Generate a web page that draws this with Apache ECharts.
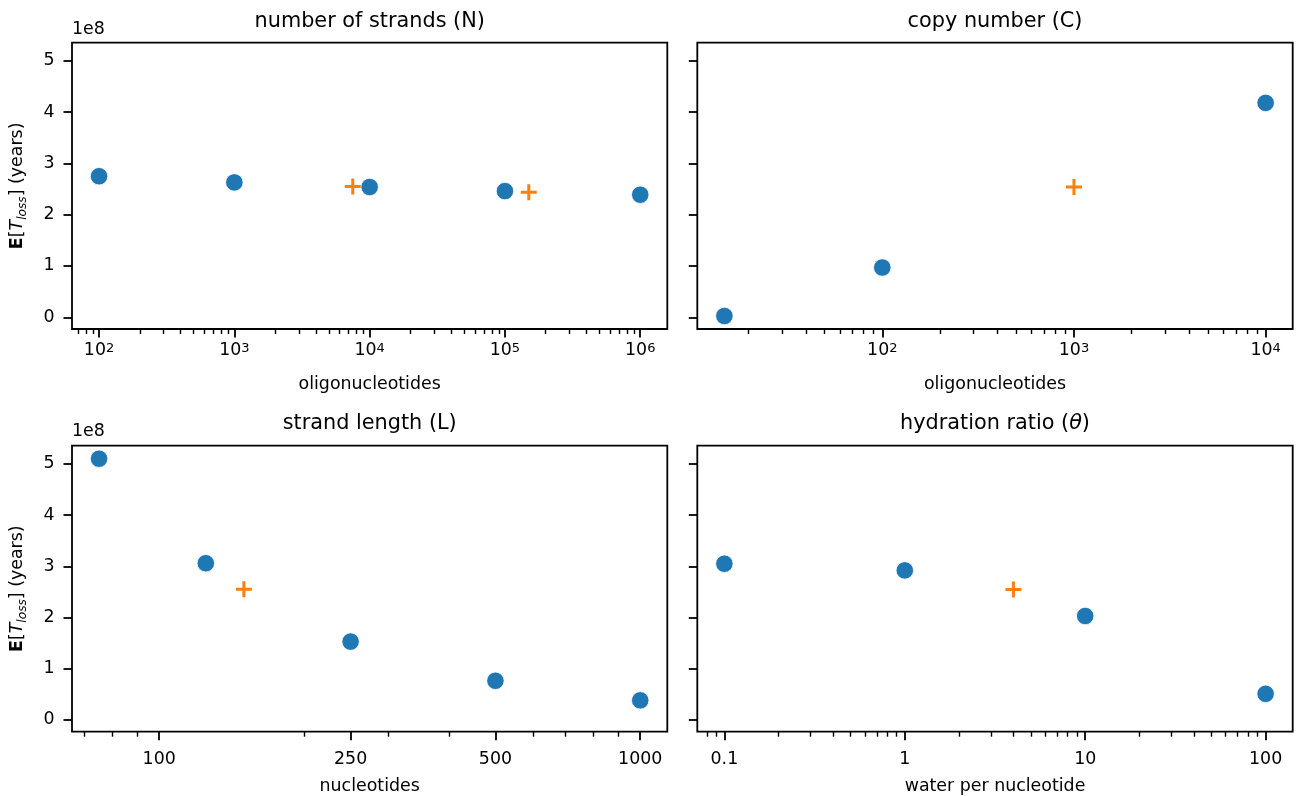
<!DOCTYPE html>
<html>
<head>
<meta charset="utf-8">
<script src="https://cdn.jsdelivr.net/npm/echarts@6/dist/echarts.min.js"></script>
<style>
html, body { margin: 0; padding: 0; background: #fff; }
#chart { width: 1296px; height: 796px; }
</style>
</head>
<body>
<div id="chart"></div>
<script>
// values are in units of 1e8 years
// number of strands (N)
const strandsN = [100, 1000, 10000, 100000, 1000000]
const strandsT = [2.75, 2.63, 2.54, 2.46, 2.39]
const strandsRefN = [7500, 150000]
const strandsRefT = [2.55, 2.44]
// copy number (C)
const copyC = [15, 100, 10000]
const copyT = [0.025, 0.97, 4.18]
const copyRefC = [1000]
const copyRefT = [2.54]
// strand length (L)
const lengthL = [75, 125, 250, 500, 1000]
const lengthT = [5.10, 3.06, 1.53, 0.765, 0.383]
const lengthRefL = [150]
const lengthRefT = [2.55]
// hydration ratio (theta)
const hydrTheta = [0.1, 1, 10, 100]
const hydrT = [3.05, 2.92, 2.03, 0.51]
const hydrRefTheta = [4]
const hydrRefT = [2.545]

// tick labels
const yTicks = [0, 1, 2, 3, 4, 5]
const strandsTicks = [100, 1000, 10000, 100000, 1000000]
const copyTicks = [100, 1000, 10000]
const lengthTicks = [100, 250, 500, 1000]
const hydrTicks = [0.1, 1, 10, 100]

const FONT = 'DejaVu Sans'
const FS = 17.4
const BLUE = '#1f77b4'
const ORANGE = '#ff7f0e'
const PLUS = 'path://M0,6.5H6.5V0H9.5V6.5H16V9.5H9.5V16H6.5V9.5H0Z'

// matplotlib style 5% margins (log space for x)
function logLim (arrs) {
  const all = [].concat(...arrs).map(Math.log10)
  const lo = Math.min(...all), hi = Math.max(...all)
  const m = (hi - lo) * 0.05
  return [Math.pow(10, lo - m), Math.pow(10, hi + m)]
}
const yAll = [].concat(strandsT, strandsRefT, copyT, copyRefT, lengthT, lengthRefT, hydrT, hydrRefT)
const yLo = Math.min(...yAll), yHi = Math.max(...yAll)
const yLim = [yLo - (yHi - yLo) * 0.05, yHi + (yHi - yLo) * 0.05]

// log minor ticks 2..9 x 10^k inside the limits
function minorTicks (lim, major) {
  const out = []
  for (let k = Math.floor(Math.log10(lim[0])); k <= Math.ceil(Math.log10(lim[1])); k++) {
    for (let m = 2; m <= 9; m++) {
      const v = +(m * Math.pow(10, k)).toPrecision(6)
      if (v >= lim[0] && v <= lim[1] && major.indexOf(v) < 0) out.push(v)
    }
  }
  return out
}

const grids = [
  { left: 72, top: 42.7, width: 595.3, height: 286.3 },
  { left: 697.3, top: 42.7, width: 595.4, height: 286.3 },
  { left: 72, top: 445.7, width: 595.3, height: 286 },
  { left: 697.3, top: 445.7, width: 595.4, height: 286 }
]

const tickLine = { color: '#000', width: 1.8 }
const pow10 = v => '10{s|' + Math.round(Math.log10(v)) + '}'
const plain = v => String(v)

function xAxes (grid, lim, major, fmt, margin, gap, name) {
  return [{
    type: 'log',
    gridIndex: grid,
    position: 'bottom',
    min: lim[0],
    max: lim[1],
    name: name,
    nameLocation: 'middle',
    nameGap: gap,
    nameTextStyle: { fontFamily: FONT, fontSize: FS, color: '#000' },
    axisLine: { show: false, onZero: false },
    splitLine: { show: false },
    axisTick: { show: true, customValues: major, length: 8.5, lineStyle: tickLine },
    axisLabel: {
      show: true,
      customValues: major,
      formatter: fmt,
      margin: margin,
      color: '#000',
      fontFamily: FONT,
      fontSize: FS,
      rich: { s: { fontFamily: FONT, fontSize: 13, color: '#000', verticalAlign: 'top' } }
    }
  }, {
    type: 'log',
    gridIndex: grid,
    position: 'bottom',
    min: lim[0],
    max: lim[1],
    axisLine: { show: false, onZero: false },
    splitLine: { show: false },
    axisTick: { show: true, customValues: minorTicks(lim, major), length: 5, lineStyle: { color: '#000', width: 1.4 } },
    axisLabel: { show: false }
  }]
}

const yName = '{b|E}{n|[}{i|T}{s|loss}{n|] (years)}'
function yAxis (grid, showLabel) {
  return {
    type: 'value',
    gridIndex: grid,
    min: yLim[0],
    max: yLim[1],
    name: showLabel ? yName : '',
    nameLocation: 'middle',
    nameRotate: 90,
    nameGap: 43,
    nameTextStyle: {
      rich: {
        b: { fontFamily: FONT, fontSize: FS, fontWeight: 'bold', color: '#000', lineHeight: 24 },
        n: { fontFamily: FONT, fontSize: FS, color: '#000', lineHeight: 24 },
        i: { fontFamily: FONT, fontSize: FS, fontStyle: 'italic', color: '#000', lineHeight: 24 },
        s: { fontFamily: FONT, fontSize: 12.2, fontStyle: 'italic', color: '#000', verticalAlign: 'bottom', lineHeight: 24 }
      }
    },
    axisLine: { show: false, onZero: false },
    splitLine: { show: false },
    axisTick: { show: true, customValues: yTicks, length: 8.5, lineStyle: tickLine },
    axisLabel: {
      show: showLabel,
      customValues: yTicks,
      margin: 17.5,
      color: '#000',
      fontFamily: FONT,
      fontSize: FS
    }
  }
}

function dots (grid, xs, ys) {
  return {
    type: 'scatter',
    xAxisIndex: grid * 2,
    yAxisIndex: grid,
    data: xs.map((x, i) => [x, ys[i]]),
    symbol: 'circle',
    symbolSize: 17.5,
    itemStyle: { color: BLUE, borderColor: '#fff', borderWidth: 0.8, opacity: 1 },
    z: 3
  }
}
function refs (grid, xs, ys) {
  return {
    type: 'scatter',
    xAxisIndex: grid * 2,
    yAxisIndex: grid,
    data: xs.map((x, i) => [x, ys[i]]),
    symbol: PLUS,
    symbolSize: 16,
    itemStyle: { color: ORANGE, opacity: 1 },
    z: 4
  }
}

const strandsLim = logLim([strandsN, strandsRefN])
const copyLim = logLim([copyC, copyRefC])
const lengthLim = logLim([lengthL, lengthRefL])
const hydrLim = logLim([hydrTheta, hydrRefTheta])

function titleText (x, y, text, rich) {
  return {
    type: 'text',
    x: x,
    y: y,
    style: {
      text: text,
      fontFamily: FONT,
      fontSize: 20.8,
      fill: '#000',
      align: 'center',
      verticalAlign: 'middle',
      rich: rich
    }
  }
}
function offsetText (x, y) {
  return {
    type: 'text',
    x: x,
    y: y,
    style: { text: '1e8', fontFamily: FONT, fontSize: FS, fill: '#000', align: 'left', verticalAlign: 'middle' }
  }
}

const chart = echarts.init(document.getElementById('chart'))
chart.setOption({
  animation: false,
  backgroundColor: '#fff',
  grid: grids.map(g => Object.assign({ show: true, borderColor: '#000', borderWidth: 1.8, backgroundColor: 'transparent' }, g)),
  xAxis: [].concat(
    xAxes(0, strandsLim, strandsTicks, pow10, 13, 47, 'oligonucleotides'),
    xAxes(1, copyLim, copyTicks, pow10, 13, 47, 'oligonucleotides'),
    xAxes(2, lengthLim, lengthTicks, plain, 19, 46, 'nucleotides'),
    xAxes(3, hydrLim, hydrTicks, plain, 19, 46, 'water per nucleotide')
  ),
  yAxis: [yAxis(0, true), yAxis(1, false), yAxis(2, true), yAxis(3, false)],
  series: [
    dots(0, strandsN, strandsT), refs(0, strandsRefN, strandsRefT),
    dots(1, copyC, copyT), refs(1, copyRefC, copyRefT),
    dots(2, lengthL, lengthT), refs(2, lengthRefL, lengthRefT),
    dots(3, hydrTheta, hydrT), refs(3, hydrRefTheta, hydrRefT)
  ],
  graphic: [
    titleText(369.7, 22, 'number of strands (N)'),
    titleText(995, 22, 'copy number (C)'),
    titleText(369.7, 424, 'strand length (L)'),
    titleText(995, 424, '{t|hydration ratio (}{it|θ}{t|)}', {
      t: { fontFamily: FONT, fontSize: 20.8, fill: '#000' },
      it: { fontFamily: FONT, fontSize: 20.8, fontStyle: 'italic', fill: '#000' }
    }),
    offsetText(72, 29),
    offsetText(72, 431)
  ]
})
</script>
</body>
</html>
